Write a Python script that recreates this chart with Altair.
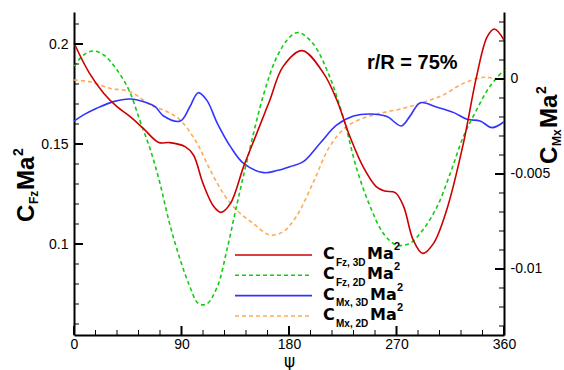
import altair as alt
import pandas as pd

# ---------------- data ----------------
fz3d_psi = [0, 13, 25, 36, 47, 58, 71, 80, 93, 100, 108, 117, 123, 131, 142, 153, 164, 175,
            191, 209, 220, 231, 242, 253, 260, 269, 276, 284, 292, 301, 312, 326, 337, 346, 352, 360]
fz3d_val = [0.2005, 0.1853, 0.1753, 0.1687, 0.1637, 0.1578, 0.1507, 0.1507, 0.1487, 0.1445,
            0.1303, 0.1187, 0.1158, 0.1203, 0.1387, 0.1553, 0.1720, 0.1887, 0.1967, 0.1853,
            0.1720, 0.1537, 0.1387, 0.1287, 0.1265, 0.1257, 0.1187, 0.1020, 0.0953, 0.1003,
            0.1170, 0.1503, 0.1837, 0.2037, 0.2075, 0.2020]

fz2d_psi = [0, 8, 16, 25, 36, 46, 55, 64, 72, 80, 89, 97, 104, 111, 120, 128, 136, 145, 159,
            170, 181, 188, 200, 214, 226, 237, 248, 259, 270, 281, 292, 304, 315, 326, 337, 348, 360]
fz2d_val = [0.1890, 0.1945, 0.1965, 0.1945, 0.1870, 0.1770, 0.1620, 0.1470, 0.1303, 0.1103,
            0.0920, 0.0787, 0.0703, 0.0700, 0.0787, 0.0970, 0.1187, 0.1420, 0.1753, 0.1937,
            0.2037, 0.2057, 0.2003, 0.1837, 0.1620, 0.1370, 0.1187, 0.1053, 0.0995, 0.1003,
            0.1070, 0.1187, 0.1353, 0.1537, 0.1670, 0.1787, 0.1870]

mx3d_psi = [0, 8, 19, 33, 47, 61, 68, 75, 89, 97, 104, 111, 120, 131, 142, 159, 170, 181, 192,
            206, 220, 234, 248, 262, 274, 281, 290, 304, 318, 329, 340, 350, 360]
mx3d_val = [-0.00222, -0.00189, -0.00154, -0.00119, -0.00105, -0.00125, -0.00146, -0.00195,
            -0.00221, -0.00146, -0.00072, -0.00110, -0.00233, -0.00356, -0.00444, -0.00493,
            -0.00482, -0.00461, -0.00435, -0.00338, -0.00242, -0.00195, -0.00184, -0.00198,
            -0.00247, -0.00198, -0.00125, -0.00149, -0.00177, -0.00212, -0.00221, -0.00256,
            -0.00225]

mx2d_psi = [0, 13, 30, 47, 64, 78, 89, 103, 114, 125, 136, 150, 164, 175, 186, 200, 214, 228,
            242, 256, 276, 290, 309, 326, 343, 351, 360]
mx2d_val = [-0.00005, -0.00014, -0.00049, -0.00067, -0.00137, -0.00172, -0.00216, -0.00338,
            -0.00479, -0.00602, -0.00689, -0.00760, -0.00821, -0.00804, -0.00725, -0.00549,
            -0.00356, -0.00251, -0.00207, -0.00181, -0.00154, -0.00128, -0.00084, -0.00023,
            0.00009, 0.00004, -0.00005]

x_major = [0, 90, 180, 270, 360]
x_minor = [0, 18, 36, 54, 72, 90, 108, 126, 144, 162, 180, 198, 216, 234, 252, 270, 288, 306,
           324, 342, 360]
yl_major = [0.1, 0.15, 0.2]
yl_minor = [0.06, 0.07, 0.08, 0.09, 0.1, 0.11, 0.12, 0.13, 0.14, 0.15, 0.16, 0.17, 0.18, 0.19,
            0.2, 0.21]
yr_major = [0, -0.005, -0.01]
yr_minor = [0.003, 0.002, 0.001, 0, -0.001, -0.002, -0.003, -0.004, -0.005, -0.006, -0.007,
            -0.008, -0.009, -0.01, -0.011, -0.012, -0.013]

# ---------------- layout ----------------
W, H = 430, 323
PL, PT = 74, 12
L_DOM = [0.0545, 0.216]
R_DOM = [-0.013474, 0.003526]
FONT = "Liberation Sans"
WIDE = "DejaVu Sans"

RED, GREEN, BLUE, ORANGE = "#cc0000", "#11cc11", "#3333ff", "#ffaa55"

X_ENC = alt.X("psi:Q",
              scale=alt.Scale(domain=[0, 360], nice=False, zero=False),
              axis=alt.Axis(values=x_major, title="ψ", ticks=False, tickSize=0, grid=False,
                            domainColor="black", domainWidth=2, labelFont=FONT,
                            labelFontSize=14, labelColor="black", labelPadding=2,
                            labelFlush=False, labelOverlap=False,
                            titleFont="DejaVu Sans", titleFontSize=17,
                            titleFontWeight="normal", titleColor="black", titlePadding=2))


def yscale(dom):
    return alt.Scale(domain=dom, nice=False, zero=False)


def series(psi, val, color, dom, axis, dash=None):
    df = pd.DataFrame({"psi": psi, "v": val})
    kw = dict(color=color, strokeWidth=1.6, interpolate="catmull-rom")
    if dash:
        kw["strokeDash"] = dash
    return alt.Chart(df).mark_line(**kw).encode(
        x=X_ENC, y=alt.Y("v:Q", scale=yscale(dom), axis=axis))


left_axis = alt.Axis(orient="left", values=yl_major, title=None, ticks=False, tickSize=0,
                     grid=False, domainColor="black", domainWidth=2, labelFont=FONT,
                     labelFontSize=14, labelColor="black", labelPadding=6,
                     labelExpr="toString(datum.value)")
right_axis = alt.Axis(orient="right", values=yr_major, title=None, ticks=False, tickSize=0,
                      grid=False, domainColor="black", domainWidth=2, labelFont=FONT,
                      labelFontSize=14, labelColor="black", labelPadding=6,
                      labelExpr="toString(datum.value)")

c_orange = series(mx2d_psi, mx2d_val, ORANGE, R_DOM, None, [4, 3])
c_blue = series(mx3d_psi, mx3d_val, BLUE, R_DOM, right_axis)
c_green = series(fz2d_psi, fz2d_val, GREEN, L_DOM, None, [4, 3])
c_red = series(fz3d_psi, fz3d_val, RED, L_DOM, left_axis)


def yticks(vals, dom, x0, x1, sw):
    return alt.Chart(pd.DataFrame({"t": vals})).mark_rule(color="black", strokeWidth=sw).encode(
        y=alt.Y("t:Q", scale=yscale(dom), axis=None), x=alt.value(x0), x2=alt.value(x1))


def xticks(vals, length, sw):
    return alt.Chart(pd.DataFrame({"psi": vals})).mark_rule(color="black", strokeWidth=sw).encode(
        x=X_ENC, y=alt.value(H), y2=alt.value(H - length))


ticks = [
    yticks(yl_minor, L_DOM, 0, 5, 1),
    yticks(yl_major, L_DOM, 0, 9, 2),
    yticks(yr_minor, R_DOM, W, W - 5, 1),
    yticks(yr_major, R_DOM, W, W - 9, 2),
    xticks(x_minor, 5, 1),
    xticks(x_major, 9, 2),
]

ONE = pd.DataFrame({"a": [0]})


def txt(s, x, y, size, bold=True, angle=0, font=FONT):
    kw = dict(text=s, fontSize=size, fontWeight="bold" if bold else "normal", font=font,
              align="left", baseline="alphabetic", color="black")
    if angle:
        kw["angle"] = angle
    return alt.Chart(ONE).mark_text(**kw).encode(x=alt.value(x - PL), y=alt.value(y - PT))


def rule(x0, x1, y, color, dash=None):
    kw = dict(color=color, strokeWidth=1.6)
    if dash:
        kw["strokeDash"] = dash
    return alt.Chart(ONE).mark_rule(**kw).encode(
        x=alt.value(x0 - PL), x2=alt.value(x1 - PL), y=alt.value(y - PT))


annot = [
    txt("r/R = 75%", 367, 69, 20),
    # left axis title  C_Fz Ma^2 (rotated)
    txt("C", 34, 222, 24, angle=270),
    txt("Fz", 38, 204, 12, angle=270),
    txt("Ma", 34, 190, 24, angle=270),
    txt("2", 23, 156, 14, angle=270),
    # right axis title  C_Mx Ma^2 (rotated)
    txt("C", 557, 164, 24, angle=270),
    txt("Mx", 561, 146, 12, angle=270),
    txt("Ma", 557, 128, 24, angle=270),
    txt("2", 546, 94, 14, angle=270),
]

legend_rows = [
    (255, RED, None, "Fz, 3D", 367),
    (275.3, GREEN, [4, 3], "Fz, 2D", 367),
    (295.6, BLUE, None, "Mx, 3D", 370),
    (316, ORANGE, [4, 3], "Mx, 2D", 370),
]
for (ly, col, dash, sub, mx) in legend_rows:
    annot.append(rule(235, 312, ly, col, dash))
    annot.append(txt("C", 323, ly + 4, 16, font=WIDE))
    annot.append(txt(sub, 336, ly + 10.5, 10))
    annot.append(txt("Ma", mx, ly + 4, 16, font=WIDE))
    annot.append(txt("2", mx + 27, ly - 5, 11))

chart = alt.layer(c_orange, c_blue, c_green, c_red, *ticks, *annot).resolve_scale(
    y="independent"
).properties(
    width=W, height=H,
    padding={"left": PL, "top": PT, "right": 564 - PL - W, "bottom": 370 - PT - H},
    autosize=alt.AutoSizeParams(type="none"),
    background="white",
).configure_view(stroke=None)

chart.save("out.html", embed_options={"renderer": "svg", "actions": False})
